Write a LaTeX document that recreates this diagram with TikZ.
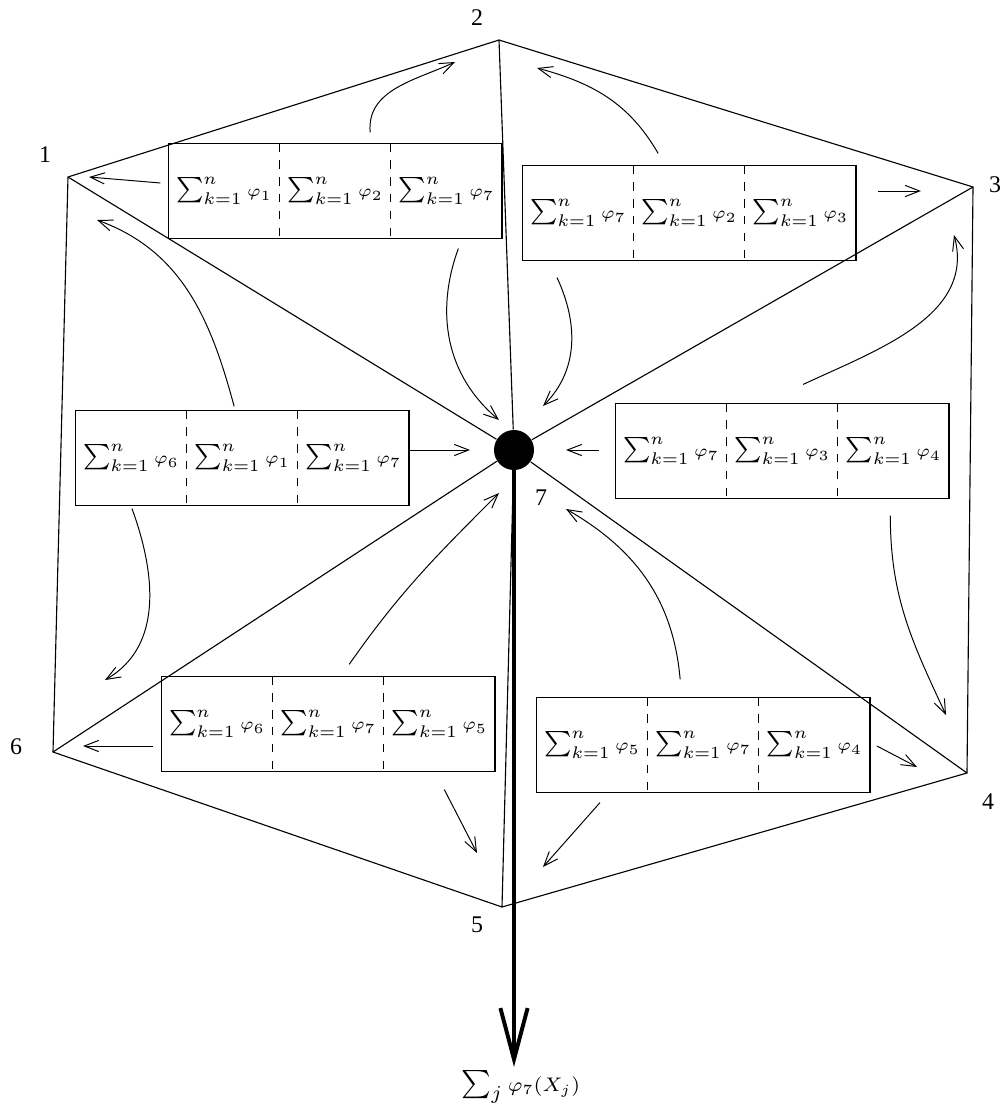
\documentclass[tikz,border=0pt]{standalone}
\usepackage{fontspec}
\usepackage{amsmath, amssymb}
\usetikzlibrary{positioning, arrows.meta}
\newfontfamily\cornerfont{Liberation Serif}
\newcommand{\sk}[1]{\ensuremath{\textstyle\sum_{k=1}^{n}{\scriptstyle\varphi_{#1}}}}

\begin{document}
\begin{tikzpicture}[x=0.0125cm, y=-0.0125cm,
	cell/.style={minimum width=1.375cm, minimum height=1.175cm, inner sep=0pt, font=\small},
	flow/.style={line width=0.35pt, -{Straight Barb[length=1.8mm, width=1.4mm]}},
	num/.style={font=\cornerfont\fontsize{8.5}{10}\selectfont, inner sep=0pt}]
	\useasboundingbox (0,0) rectangle (1003,1106);
	
	% corners of the hexagon and the centre
	\coordinate (v1) at (68,177);
	\coordinate (v2) at (499,40);
	\coordinate (v3) at (973,187);
	\coordinate (v4) at (967,773);
	\coordinate (v5) at (502,907);
	\coordinate (v6) at (53,752);
	\node[circle, fill, minimum size=0.5cm, inner sep=0pt] (v7) at (514,450) {};
	
	\node[num] (l1) at (45,155) {1};
	\node[num] (l2) at (477,18) {2};
	\node[num] (l3) at (995,185) {3};
	\node[num] (l4) at (988,802) {4};
	\node[num] (l5) at (477,925) {5};
	\node[num] (l6) at (16,747) {6};
	\node[num] (l7) at (541,498) {7};
	
	\draw (v1) -- (v2) -- (v3) -- (v4) -- (v5) -- (v6) -- cycle;
	\foreach \i in {1,...,6}
		\draw (v7) -- (v\i);
	
	% the six boxes
	\foreach \b/\x/\y/\p/\q/\r in {a/224/191/1/2/7, b/578/213/7/2/3, c/131/458/6/1/7,
		d/671/451/7/3/4, e/217/724/6/7/5, f/592/745/5/7/4} {
		\node[cell] (\b1) at (\x,\y) {\sk{\p}};
		\node[cell, right=0pt of \b1] (\b2) {\sk{\q}};
		\node[cell, right=0pt of \b2] (\b3) {\sk{\r}};
		\draw[semithick] (\b1.north west) rectangle (\b3.south east);
		\draw[dashed] (\b1.north east) -- (\b1.south east)
			(\b2.north east) -- (\b2.south east);
	}
	
	% box a
	\draw[flow] ([shift={(-8,-8)}]a1.west) -- ([shift={(21,0)}]v1);
	\draw[flow] ([shift={(35,-11)}]a2.north) to[out=95, in=205] ([shift={(-44,22)}]v2);
	\draw[flow] ([shift={(12,10)}]a3.south) to[out=-110, in=140] ([shift={(-15,-30)}]v7.center);
	% box b
	\draw[flow] ([shift={(-31,-12)}]b2.north) to[out=120, in=-15] ([shift={(38,28)}]v2);
	\draw[flow] ([shift={(22,-22)}]b3.east) -- ++(43,0);
	\draw[flow] ([shift={(-21,17)}]b1.south) to[out=-65, in=45] ([shift={(29,-44)}]v7.center);
	% box c
	\draw[flow] ([shift={(-8,-4)}]c2.north) to[out=105, in=-20] ([shift={(29,43)}]v1);
	\draw[flow] ([shift={(0,-8)}]c3.east) -- ([shift={(-44,0)}]v7.center);
	\draw[flow] ([shift={(1,3)}]c1.south) to[out=-70, in=30] ([shift={(52,-72)}]v6);
	% box d
	\draw[flow] ([shift={(21,-19)}]d2.north) to[out=25, in=-75] ([shift={(-19,48)}]v3);
	\draw[flow] ([shift={(-16,-1)}]d1.west) -- ([shift={(52,0)}]v7.center);
	\draw[flow] ([shift={(-3,17)}]d3.south) to[out=-90, in=115] ([shift={(-21,-58)}]v4);
	% box e
	\draw[flow] ([shift={(21,-12)}]e2.north) to[out=55, in=-135] ([shift={(-15,43)}]v7.center);
	\draw[flow] ([shift={(-8,22)}]e1.west) -- ([shift={(30,-6)}]v6);
	\draw[flow] ([shift={(5,18)}]e3.south) -- ([shift={(-25,-54)}]v5);
	% box f
	\draw[flow] ([shift={(-23,-18)}]f2.north) to[out=95, in=-30] ([shift={(52,59)}]v7.center);
	\draw[flow] ([shift={(7,1)}]f3.east) -- ([shift={(-50,-6)}]v4);
	\draw[flow] ([shift={(8,10)}]f1.south) -- ([shift={(41,-40)}]v5);
	
	% output
	\node[inner sep=1pt] (sumj) at (521,1087) {$\textstyle\sum_{j}{\scriptstyle\varphi_{7}(X_{j})}$};
	\draw[line width=1.4pt, -{Straight Barb[length=6.4mm, width=3.4mm]}] (v7.center) -- (v7.center |- sumj.north);
\end{tikzpicture}
\end{document}
